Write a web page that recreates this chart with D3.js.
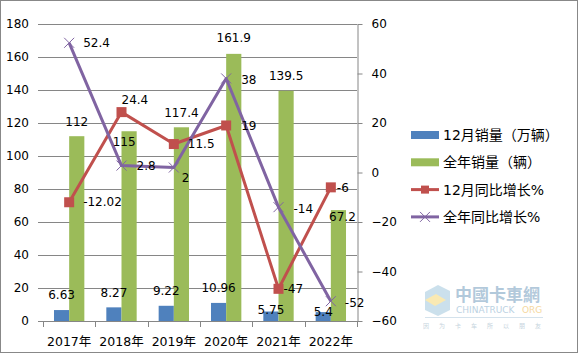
<!DOCTYPE html>
<html>
<head>
<meta charset="utf-8">
<script src="https://cdn.jsdelivr.net/npm/d3@7"></script>
<style>
  body { margin: 0; background: #fff; }
  svg text { font-family: "DejaVu Sans", "Noto Sans CJK SC", sans-serif; fill: #000; }
</style>
</head>
<body>
<div id="canvas"></div>
<script>
"use strict";

/* === Data === */
let years = ["2017年", "2018年", "2019年", "2020年", "2021年", "2022年"];
let decSales = [6.63, 8.27, 9.22, 10.96, 5.75, 5.4];          // 12月销量（万辆）
let yearSales = [112, 115, 117.4, 161.9, 139.5, 67.2];        // 全年销量（辆）
let decGrowth = [-12.02, 24.4, 11.5, 19, -47, -6];            // 12月同比增长%
let yearGrowth = [52.4, 2.8, 2, 38, -14, -52];                // 全年同比增长%
let leftTicks = [0, 20, 40, 60, 80, 100, 120, 140, 160, 180];
let rightTicks = [-60, -40, -20, 0, 20, 40, 60];
let seriesNames = ["12月销量（万辆）", "全年销量（辆）", "12月同比增长%", "全年同比增长%"];

let colors = { blue: "#4F81BD", green: "#9BBB59", red: "#C0504D", purple: "#8064A2", grid: "#868686" };

let svgWidth = 580;
let svgHeight = 354;
let plot = { left: 43, right: 357, top: 24, bottom: 321 };

/* label nudges (excel labels were dragged by hand on some points) */
let decLabelDy = [-15, -15, -15, -15, -2, 0];
let yearLabelDy = [-14, 11, -14, -16, -15, 7];
let yearLabelDx = [0, -5, 0, 0, 0, 4];

/* === SVG === */
let svg = d3.select("#canvas")
  .append("svg")
  .attr("width", svgWidth)
  .attr("height", svgHeight);

svg.append("rect")
  .attr("x", 0.5).attr("y", 0.5)
  .attr("width", 577).attr("height", 352)
  .attr("fill", "#fff")
  .attr("stroke", "#888")
  .attr("stroke-width", 1);

/* === Scales === */
let xScale = d3.scaleBand()
  .domain(years)
  .range([plot.left, plot.right])
  .paddingInner(0.42)
  .paddingOuter(0.21);

let xSub = d3.scaleBand()
  .domain(["dec", "year"])
  .range([0, xScale.bandwidth()]);

let yLeft = d3.scaleLinear().domain([0, 180]).range([plot.bottom, plot.top]);
let yRight = d3.scaleLinear().domain([-60, 60]).range([plot.bottom, plot.top]);

let center = d => xScale(d) + xScale.bandwidth() / 2;

/* === Gridlines + left axis === */
let leftAxis = svg.append("g")
  .attr("transform", `translate(${plot.left}, 0)`)
  .call(d3.axisLeft(yLeft).tickValues(leftTicks).tickSize(5).tickPadding(9).tickSizeOuter(0));
leftAxis.select(".domain").remove();
leftAxis.selectAll(".tick line").attr("stroke", colors.grid);
leftAxis.selectAll(".tick text").attr("font-size", "12px").attr("font-family", "DejaVu Sans");

svg.append("g")
  .selectAll("line")
  .data(leftTicks.slice(1))
  .enter()
  .append("line")
  .attr("x1", plot.left)
  .attr("x2", plot.right)
  .attr("y1", d => Math.round(yLeft(d)) + 0.5)
  .attr("y2", d => Math.round(yLeft(d)) + 0.5)
  .attr("stroke", colors.grid)
  .attr("stroke-width", 1);

/* === Right axis === */
let rightAxis = svg.append("g")
  .attr("transform", `translate(${plot.right + 0.5}, 0)`)
  .call(d3.axisRight(yRight).tickValues(rightTicks).tickSize(5).tickPadding(9).tickSizeOuter(0));
rightAxis.select(".domain").attr("stroke", colors.grid);
rightAxis.selectAll(".tick line").attr("stroke", colors.grid);
rightAxis.selectAll(".tick text").attr("font-size", "12px").attr("font-family", "DejaVu Sans");

/* === Bottom axis === */
let step = xScale.step();
let boundaries = years.map(d => xScale(d) - step * xScale.paddingInner() / 2).concat([plot.right]);
let bottom = svg.append("g");
bottom.append("line")
  .attr("x1", plot.left).attr("x2", plot.right)
  .attr("y1", plot.bottom + 0.5).attr("y2", plot.bottom + 0.5)
  .attr("stroke", colors.grid);
bottom.selectAll("line.tick")
  .data(boundaries)
  .enter()
  .append("line")
  .classed("tick", true)
  .attr("x1", d => Math.round(d) + 0.5).attr("x2", d => Math.round(d) + 0.5)
  .attr("y1", plot.bottom).attr("y2", plot.bottom + 6)
  .attr("stroke", colors.grid);
bottom.selectAll("text")
  .data(years)
  .enter()
  .append("text")
  .attr("x", d => center(d))
  .attr("y", 346)
  .attr("text-anchor", "middle")
  .attr("font-size", "12.5px")
  .text(d => d);

/* === Bars === */
svg.selectAll("rect.dec")
  .data(decSales)
  .enter()
  .append("rect")
  .classed("dec", true)
  .attr("x", (d, i) => xScale(years[i]) + xSub("dec"))
  .attr("y", d => yLeft(d))
  .attr("width", xSub.bandwidth())
  .attr("height", d => plot.bottom - yLeft(d))
  .attr("fill", colors.blue);

svg.selectAll("rect.year")
  .data(yearSales)
  .enter()
  .append("rect")
  .classed("year", true)
  .attr("x", (d, i) => xScale(years[i]) + xSub("year"))
  .attr("y", d => yLeft(d))
  .attr("width", xSub.bandwidth())
  .attr("height", d => plot.bottom - yLeft(d))
  .attr("fill", colors.green);

/* === Lines === */
let growthLine = d3.line()
  .x((d, i) => center(years[i]))
  .y(d => yRight(d));

svg.append("path")
  .datum(decGrowth)
  .attr("d", growthLine)
  .attr("fill", "none")
  .attr("stroke", colors.red)
  .attr("stroke-width", 3)
  .attr("stroke-linejoin", "round");

svg.append("path")
  .datum(yearGrowth)
  .attr("d", growthLine)
  .attr("fill", "none")
  .attr("stroke", colors.purple)
  .attr("stroke-width", 3)
  .attr("stroke-linejoin", "round");

svg.selectAll("rect.marker")
  .data(decGrowth)
  .enter()
  .append("rect")
  .classed("marker", true)
  .attr("x", (d, i) => center(years[i]) - 5)
  .attr("y", d => yRight(d) - 5)
  .attr("width", 10)
  .attr("height", 10)
  .attr("fill", colors.red);

svg.selectAll("path.xmark")
  .data(yearGrowth)
  .enter()
  .append("path")
  .classed("xmark", true)
  .attr("d", (d, i) => {
    let cx = center(years[i]), cy = yRight(d);
    return `M${cx - 5},${cy - 5}L${cx + 5},${cy + 5}M${cx - 5},${cy + 5}L${cx + 5},${cy - 5}`;
  })
  .attr("stroke", colors.purple)
  .attr("stroke-width", 1);

/* === Data labels === */
let labels = svg.append("g").attr("font-size", "12px");

labels.selectAll("text.decL")
  .data(decSales)
  .enter()
  .append("text")
  .attr("x", (d, i) => xScale(years[i]) + xSub("dec") + xSub.bandwidth() / 2)
  .attr("y", (d, i) => yLeft(d) + decLabelDy[i])
  .attr("dy", "0.35em")
  .attr("text-anchor", "middle")
  .text(d => d);

labels.selectAll("text.yearL")
  .data(yearSales)
  .enter()
  .append("text")
  .attr("x", (d, i) => xScale(years[i]) + xSub("year") + xSub.bandwidth() / 2 + yearLabelDx[i])
  .attr("y", (d, i) => yLeft(d) + yearLabelDy[i])
  .attr("dy", "0.35em")
  .attr("text-anchor", "middle")
  .text(d => d);

let redDx = [14, 0, 14, 15, 5, 6];
let redDy = [0, -12, 0, 0, 0, 0];
labels.selectAll("text.redL")
  .data(decGrowth)
  .enter()
  .append("text")
  .attr("x", (d, i) => center(years[i]) + redDx[i])
  .attr("y", (d, i) => yRight(d) + redDy[i])
  .attr("dy", "0.35em")
  .text(d => d);

let purpleDx = [14, 15, 8, 15, 15, 14];
let purpleDy = [0, 0, 10, 1, 2, 2];
labels.selectAll("text.purpleL")
  .data(yearGrowth)
  .enter()
  .append("text")
  .attr("x", (d, i) => center(years[i]) + purpleDx[i])
  .attr("y", (d, i) => yRight(d) + purpleDy[i])
  .attr("dy", "0.35em")
  .text(d => d);

/* === Legend === */
let legend = svg.append("g").attr("transform", "translate(411, 135)");
seriesNames.forEach((name, i) => {
  let row = legend.append("g").attr("transform", `translate(0, ${i * 27.3})`);
  if (i < 2) {
    row.append("rect")
      .attr("x", 0).attr("y", -4)
      .attr("width", 28).attr("height", 8)
      .attr("fill", i === 0 ? colors.blue : colors.green);
  } else {
    let c = i === 2 ? colors.red : colors.purple;
    row.append("line")
      .attr("x1", 0).attr("x2", 28)
      .attr("y1", 0).attr("y2", 0)
      .attr("stroke", c).attr("stroke-width", 3);
    if (i === 2) {
      row.append("rect").attr("x", 10).attr("y", -4).attr("width", 8).attr("height", 8).attr("fill", c);
    } else {
      row.append("path").attr("d", "M9,-5L19,5M9,5L19,-5").attr("stroke", c).attr("stroke-width", 1);
    }
  }
  row.append("text")
    .attr("x", 32)
    .attr("y", 0)
    .attr("dy", "0.35em")
    .attr("font-size", "14px")
    .attr("font-family", "'Noto Sans CJK SC', sans-serif")
    .text(name);
});

/* === Watermark (faint) === */
let wm = svg.append("g").attr("opacity", 0.6);
wm.append("path")
  .attr("d", "M425,292 L438,285 L450,291 L450,310 L438,316 L425,310 Z")
  .attr("fill", "#a9cde0");
wm.append("path")
  .attr("d", "M425,300 L436,294 L446,300 L435,306 Z")
  .attr("fill", "#f6dc82");
wm.append("text")
  .attr("x", 455).attr("y", 301)
  .attr("font-size", "17px")
  .attr("font-family", "'Noto Sans CJK TC', sans-serif")
  .attr("font-weight", "bold")
  .style("fill", "#7fa6c4")
  .text("中國卡車網");
wm.append("text")
  .attr("x", 456).attr("y", 313)
  .attr("font-size", "9px")
  .style("fill", "#8fb4cf")
  .text("CHINATRUCK");
wm.append("text")
  .attr("x", 522).attr("y", 313)
  .attr("font-size", "9px")
  .style("fill", "#f0c060")
  .text("ORG");
wm.append("line")
  .attr("x1", 425).attr("x2", 543)
  .attr("y1", 317.5).attr("y2", 317.5)
  .attr("stroke", "#b8cfe0");
wm.append("text")
  .attr("x", 423).attr("y", 328)
  .attr("font-size", "6px")
  .attr("letter-spacing", "10px")
  .attr("font-family", "'Noto Sans CJK SC', sans-serif")
  .style("fill", "#a0b8c8")
  .text("因为卡车所以朋友");
</script>
</body>
</html>
